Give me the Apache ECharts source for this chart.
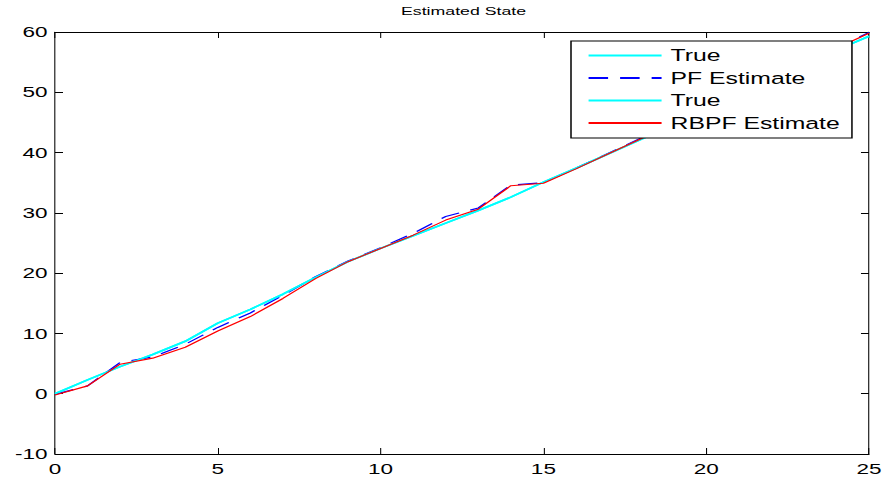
<!DOCTYPE html>
<html>
<head>
<meta charset="utf-8">
<script src="https://cdn.jsdelivr.net/npm/echarts@6/dist/echarts.min.js"></script>
<style>
html, body { margin: 0; padding: 0; background: #fff; overflow: hidden; }
#wrap { width: 886px; height: 482px; overflow: hidden; }
#chart { width: 590px; height: 482px; transform: scaleX(1.5016949); transform-origin: 0 0; }
</style>
</head>
<body>
<div id="wrap"><div id="chart"></div></div>
<script>
// ---- data ----
const timeSteps = [0, 1, 2, 3, 4, 5, 6, 7, 8, 9, 10, 11, 12, 13, 14, 15, 16, 17, 18, 19, 20, 21, 22, 23, 24, 25];
const trueState = [0, 2.3, 4.5, 6.5, 8.7, 11.7, 14.0, 16.5, 19.3, 21.9, 24.1, 26.2, 28.3, 30.4, 32.6, 35.1, 37.4, 39.8, 42.2, 44.6, 47.0, 49.5, 52.0, 54.5, 57.0, 59.3];
const pfEstimate = [-0.1, 1.3, 5.2, 6.1, 8.2, 11.0, 13.4, 16.3, 19.4, 22.0, 24.2, 26.6, 29.4, 30.8, 34.6, 35.0, 37.4, 39.9, 42.4, 44.9, 47.4, 49.9, 52.4, 54.9, 57.4, 59.9];
const rbpfEstimate = [-0.2, 1.3, 4.9, 5.9, 7.7, 10.4, 12.8, 15.8, 19.1, 21.9, 24.1, 26.3, 28.8, 30.6, 34.5, 34.9, 37.3, 39.8, 42.3, 44.8, 47.3, 49.8, 52.3, 54.8, 57.3, 59.8];
const xTicks = { min: 0, max: 25, step: 5 };
const yTicks = { min: -10, max: 60, step: 10 };
const titleText = 'Estimated State';
const legendNames = ['True', 'PF Estimate', 'True ', 'RBPF Estimate'];

// ---- chart ----
const S = 886 / 590; // horizontal stretch of the original figure
const pair = arr => timeSteps.map((t, i) => [t, arr[i]]);
const FONT = 'Liberation Sans, Arial, sans-serif';

const baseX = {
  type: 'value', min: xTicks.min, max: xTicks.max, interval: xTicks.step,
  axisLine: { show: true, onZero: false, lineStyle: { color: '#000', width: 1 } },
  axisTick: { show: true, inside: true, length: 6, lineStyle: { color: '#000', width: 0.7 } },
  splitLine: { show: false }
};
const baseY = {
  type: 'value', min: yTicks.min, max: yTicks.max, interval: yTicks.step,
  axisLine: { show: true, onZero: false, lineStyle: { color: '#000', width: 0.7 } },
  axisTick: { show: true, inside: true, length: 8 / S, lineStyle: { color: '#000', width: 1 } },
  splitLine: { show: false }
};

const chart = echarts.init(document.getElementById('chart'), null, { renderer: 'svg' });
chart.setOption({
  animation: false,
  backgroundColor: '#fff',
  title: {
    text: titleText, left: 401 / S, top: 5, padding: 0,
    textStyle: { fontFamily: FONT, fontSize: 11.8, fontWeight: 'normal', color: '#000' }
  },
  grid: { left: 55 / S, right: 16 / S, top: 32, bottom: 28, containLabel: false },
  xAxis: [
    Object.assign({}, baseX, { position: 'bottom',
      axisLabel: { show: true, color: '#000', fontFamily: FONT, fontSize: 15, margin: 7 } }),
    Object.assign({}, baseX, { position: 'top', axisLabel: { show: false } })
  ],
  yAxis: [
    Object.assign({}, baseY, { position: 'left',
      axisLabel: { show: true, color: '#000', fontFamily: FONT, fontSize: 15, margin: 5 } }),
    Object.assign({}, baseY, { position: 'right', axisLabel: { show: false } })
  ],
  legend: {
    orient: 'vertical', left: 571 / S, top: 41,
    data: legendNames,
    backgroundColor: '#fff', borderColor: '#000', borderWidth: 1,
    padding: [6, 8, 6.5, 10.7],
    itemGap: 5.5, itemWidth: 73 / S, itemHeight: 14,
    itemStyle: { opacity: 0 },
    textStyle: { fontFamily: FONT, fontSize: 16.5, color: '#000', padding: [0, 0, 0, 1] },
    selectedMode: false
  },
  series: [
    { name: legendNames[0], type: 'line', data: pair(trueState), symbol: 'none',
      lineStyle: { color: '#00FFFF', width: 1.6 }, itemStyle: { color: '#00FFFF' } },
    { name: legendNames[1], type: 'line', data: pair(pfEstimate), symbol: 'none',
      lineStyle: { color: '#0000FF', width: 1.2, type: [13, 8] }, itemStyle: { color: '#0000FF' } },
    { name: legendNames[2], type: 'line', data: pair(trueState), symbol: 'none',
      lineStyle: { color: '#00FFFF', width: 1.6 }, itemStyle: { color: '#00FFFF' } },
    { name: legendNames[3], type: 'line', data: pair(rbpfEstimate), symbol: 'none',
      lineStyle: { color: '#FF0000', width: 1.1 }, itemStyle: { color: '#FF0000' } }
  ]
});
</script>
</body>
</html>
